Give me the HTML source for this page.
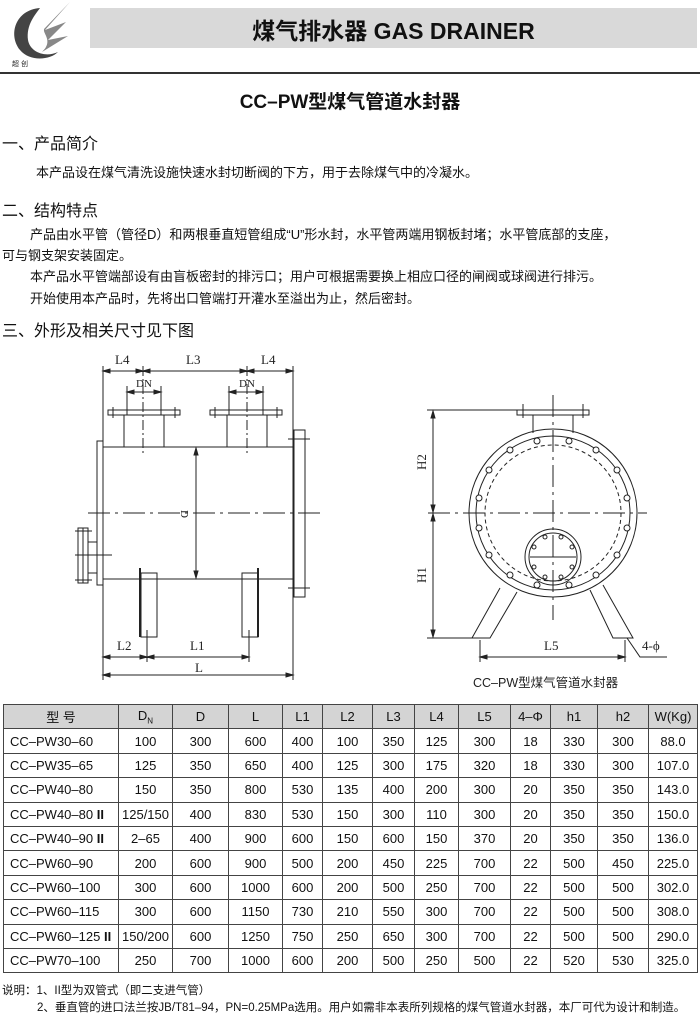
<!DOCTYPE html>
<html><head><meta charset="utf-8"><style>
body{margin:0;width:700px;height:1013px;background:#fff;position:relative;overflow:hidden;font-family:"Liberation Sans","Noto Sans CJK SC",sans-serif;color:#111}
.a{position:absolute;white-space:nowrap}
.h{font-size:16px}
.p{font-size:13px}
table{position:absolute;left:3px;top:704px;border-collapse:collapse;font-size:13px;table-layout:fixed}
td{border:1px solid #444;height:24.4px;padding:0;text-align:center;box-sizing:border-box;white-space:nowrap;overflow:hidden}
tr:first-child td{background:#d4d4d4}
td:first-child{text-align:left;padding-left:6px}
b{font-weight:bold}
</style></head><body>
<svg class="a" style="left:0;top:0" width="80" height="70">
<path d="M40 8 C15 10 8 35 20 50 C30 62 50 60 58 52 C45 58 30 52 28 40 C26 25 35 15 40 8Z" fill="#444"/>
<path d="M70 2 L45 30 L66 22 L48 40 L68 36 L42 52 C55 40 40 32 45 28Z" fill="#888"/>
<text x="12" y="66" font-size="7" fill="#222">超 创</text>
</svg>
<div class="a" style="left:90px;top:8px;width:607px;height:40px;background:#d9d9d9"></div>
<div class="a" style="left:90px;top:12px;width:607px;text-align:center;font-size:23px;font-weight:bold">煤气排水器 GAS DRAINER</div>
<div class="a" style="left:0;top:72px;width:700px;height:2px;background:#333"></div>
<div class="a" style="left:0;top:87px;width:700px;text-align:center;font-size:19px;font-weight:bold">CC–PW型煤气管道水封器</div>
<div class="a h" style="left:2px;top:130px">一、产品简介</div>
<div class="a p" style="left:36px;top:162px">本产品设在煤气清洗设施快速水封切断阀的下方，用于去除煤气中的冷凝水。</div>
<div class="a h" style="left:2px;top:197px">二、结构特点</div>
<div class="a p" style="left:30px;top:224px">产品由水平管（管径D）和两根垂直短管组成“U”形水封，水平管两端用钢板封堵；水平管底部的支座，</div>
<div class="a p" style="left:2px;top:245px">可与钢支架安装固定。</div>
<div class="a p" style="left:30px;top:266px">本产品水平管端部设有由盲板密封的排污口；用户可根据需要换上相应口径的闸阀或球阀进行排污。</div>
<div class="a p" style="left:30px;top:288px">开始使用本产品时，先将出口管端打开灌水至溢出为止，然后密封。</div>
<div class="a h" style="left:2px;top:317px">三、外形及相关尺寸见下图</div>

<svg class="a" style="left:0;top:0" width="700" height="700" fill="none" stroke="#222" stroke-width="1" font-family="Liberation Serif,serif">
<line x1="103" y1="366" x2="103" y2="680"/><line x1="293" y1="366" x2="293" y2="680"/>
<line x1="103" y1="371" x2="293" y2="371"/>
<line x1="127" y1="386" x2="127" y2="415"/><line x1="161" y1="386" x2="161" y2="415"/>
<line x1="229" y1="386" x2="229" y2="415"/><line x1="263" y1="386" x2="263" y2="415"/>
<line x1="127" y1="392" x2="161" y2="392"/><line x1="229" y1="392" x2="263" y2="392"/>
<line x1="143" y1="366" x2="143" y2="455" stroke-dasharray="10,3,2,3"/><line x1="247" y1="366" x2="247" y2="455" stroke-dasharray="10,3,2,3"/>
<rect x="108" y="410" width="72" height="5"/><rect x="210" y="410" width="72" height="5"/>
<line x1="113" y1="407" x2="113" y2="418"/><line x1="175" y1="407" x2="175" y2="418"/>
<line x1="215" y1="407" x2="215" y2="418"/><line x1="277" y1="407" x2="277" y2="418"/>
<rect x="124" y="415" width="40" height="32"/><rect x="227" y="415" width="40" height="32"/>
<line x1="103" y1="447" x2="293" y2="447"/><line x1="103" y1="579" x2="293" y2="579"/>
<rect x="97" y="441" width="6" height="144"/>
<rect x="294" y="430" width="11" height="167"/>
<line x1="288" y1="439" x2="310" y2="439"/><line x1="288" y1="588" x2="310" y2="588"/>
<line x1="88" y1="513" x2="322" y2="513" stroke-dasharray="22,5,3,5"/>
<line x1="196" y1="449" x2="196" y2="577"/>
<path d="M196 448 l-2 7 h4z M196 578 l-2 -7 h4z" fill="#222"/>
<text x="0" y="0" transform="translate(181,510) rotate(90)" font-size="11" fill="#222" stroke="none">D</text>
<rect x="88" y="542" width="9" height="31"/>
<rect x="78" y="528" width="5" height="55"/><rect x="83" y="528" width="5" height="55"/>
<line x1="75" y1="555" x2="112" y2="555"/><line x1="75" y1="531" x2="92" y2="531"/><line x1="75" y1="580" x2="92" y2="580"/>
<rect x="141" y="573" width="16" height="64"/><rect x="242" y="573" width="16" height="64"/>
<line x1="140" y1="568" x2="140" y2="637" stroke-width="2"/><line x1="258" y1="568" x2="258" y2="637" stroke-width="2"/>
<line x1="147" y1="630" x2="147" y2="662"/><line x1="249" y1="630" x2="249" y2="662"/>
<line x1="103" y1="657" x2="249" y2="657"/><line x1="103" y1="675" x2="293" y2="675"/>
<path d="M103 371 l7 -2 v4z M143 371 l-7 -2 v4z M143 371 l7 -2 v4z M247 371 l-7 -2 v4z M247 371 l7 -2 v4z M293 371 l-7 -2 v4z M127 392 l7 -2 v4z M161 392 l-7 -2 v4z M229 392 l7 -2 v4z M263 392 l-7 -2 v4z M103 657 l7 -2 v4z M147 657 l-7 -2 v4z M147 657 l7 -2 v4z M249 657 l-7 -2 v4z M103 675 l7 -2 v4z M293 675 l-7 -2 v4z" fill="#222"/>
<g fill="#222" stroke="none" font-size="13">
<text x="115" y="364">L4</text><text x="186" y="364">L3</text><text x="261" y="364">L4</text>
<text x="136" y="387" font-size="11">DN</text><text x="239" y="387" font-size="11">DN</text>
<text x="117" y="650">L2</text><text x="190" y="650">L1</text><text x="195" y="672">L</text>
</g>
<line x1="553" y1="395" x2="553" y2="620" stroke-dasharray="22,5,3,5"/>
<line x1="428" y1="513" x2="647" y2="513" stroke-dasharray="22,5,3,5"/>
<circle cx="553" cy="513" r="84"/><circle cx="553" cy="513" r="77"/><circle cx="553" cy="513" r="68" stroke-dasharray="4,3"/>
<g fill="#fff">
<circle cx="537" cy="441" r="3"/><circle cx="569" cy="441" r="3"/><circle cx="510" cy="450" r="3"/><circle cx="596" cy="450" r="3"/>
<circle cx="489" cy="470" r="3"/><circle cx="617" cy="470" r="3"/><circle cx="479" cy="498" r="3"/><circle cx="627" cy="498" r="3"/>
<circle cx="479" cy="528" r="3"/><circle cx="627" cy="528" r="3"/><circle cx="489" cy="555" r="3"/><circle cx="617" cy="555" r="3"/>
<circle cx="510" cy="575" r="3"/><circle cx="596" cy="575" r="3"/><circle cx="537" cy="585" r="3"/><circle cx="569" cy="585" r="3"/>
</g>
<circle cx="553" cy="557" r="28"/><circle cx="553" cy="557" r="24"/>
<g fill="#fff"><circle cx="545" cy="537" r="2"/><circle cx="561" cy="537" r="2"/><circle cx="534" cy="547" r="2"/><circle cx="572" cy="547" r="2"/><circle cx="534" cy="567" r="2"/><circle cx="572" cy="567" r="2"/><circle cx="545" cy="577" r="2"/><circle cx="561" cy="577" r="2"/></g>
<line x1="530" y1="557" x2="576" y2="557"/>
<rect x="517" y="410" width="72" height="5"/><line x1="523" y1="404" x2="523" y2="418"/><line x1="583" y1="404" x2="583" y2="418"/>
<line x1="533" y1="415" x2="533" y2="433"/><line x1="573" y1="415" x2="573" y2="433"/>
<line x1="427" y1="410" x2="517" y2="410"/><line x1="427" y1="638" x2="490" y2="638"/>
<line x1="433" y1="412" x2="433" y2="636"/>
<path d="M433 411 l-2 7 h4z M433 512 l-2 -7 h4z M433 514 l-2 7 h4z M433 637 l-2 -7 h4z" fill="#222"/>
<path d="M500 588 L472 638 H490 L517 592"/><path d="M590 590 L613 638 H633 L603 585"/>
<line x1="480" y1="640" x2="480" y2="662"/><line x1="625" y1="640" x2="625" y2="662"/>
<line x1="480" y1="657" x2="625" y2="657"/>
<path d="M480 657 l7 -2 v4z M625 657 l-7 -2 v4z" fill="#222"/>
<polyline points="627,638 640,657 667,657"/>
<g fill="#222" stroke="none" font-size="13">
<text transform="translate(426,470) rotate(-90)">H2</text><text transform="translate(426,583) rotate(-90)">H1</text>
<text x="544" y="650">L5</text><text x="642" y="650">4-ϕ</text>
</g>
<text x="473" y="687" font-size="12.5" fill="#222" stroke="none" font-family="Liberation Sans,Noto Sans CJK SC,sans-serif">CC–PW型煤气管道水封器</text>
</svg>

<table>
<colgroup><col style="width:115px"><col style="width:54px"><col style="width:56px"><col style="width:54px"><col style="width:40px"><col style="width:50px"><col style="width:42px"><col style="width:44px"><col style="width:52px"><col style="width:40px"><col style="width:47px"><col style="width:51px"><col style="width:49px"></colgroup>
<tr><td style="text-align:center;padding:0">型 号</td><td>D<sub style="font-size:8px">N</sub></td><td>D</td><td>L</td><td>L1</td><td>L2</td><td>L3</td><td>L4</td><td>L5</td><td>4–Φ</td><td>h1</td><td>h2</td><td>W(Kg)</td></tr>
<tr><td>CC–PW30–60</td><td>100</td><td>300</td><td>600</td><td>400</td><td>100</td><td>350</td><td>125</td><td>300</td><td>18</td><td>330</td><td>300</td><td>88.0</td></tr>
<tr><td>CC–PW35–65</td><td>125</td><td>350</td><td>650</td><td>400</td><td>125</td><td>300</td><td>175</td><td>320</td><td>18</td><td>330</td><td>300</td><td>107.0</td></tr>
<tr><td>CC–PW40–80</td><td>150</td><td>350</td><td>800</td><td>530</td><td>135</td><td>400</td><td>200</td><td>300</td><td>20</td><td>350</td><td>350</td><td>143.0</td></tr>
<tr><td>CC–PW40–80 <b>II</b></td><td>125/150</td><td>400</td><td>830</td><td>530</td><td>150</td><td>300</td><td>110</td><td>300</td><td>20</td><td>350</td><td>350</td><td>150.0</td></tr>
<tr><td>CC–PW40–90 <b>II</b></td><td>2–65</td><td>400</td><td>900</td><td>600</td><td>150</td><td>600</td><td>150</td><td>370</td><td>20</td><td>350</td><td>350</td><td>136.0</td></tr>
<tr><td>CC–PW60–90</td><td>200</td><td>600</td><td>900</td><td>500</td><td>200</td><td>450</td><td>225</td><td>700</td><td>22</td><td>500</td><td>450</td><td>225.0</td></tr>
<tr><td>CC–PW60–100</td><td>300</td><td>600</td><td>1000</td><td>600</td><td>200</td><td>500</td><td>250</td><td>700</td><td>22</td><td>500</td><td>500</td><td>302.0</td></tr>
<tr><td>CC–PW60–115</td><td>300</td><td>600</td><td>1150</td><td>730</td><td>210</td><td>550</td><td>300</td><td>700</td><td>22</td><td>500</td><td>500</td><td>308.0</td></tr>
<tr><td>CC–PW60–125 <b>II</b></td><td>150/200</td><td>600</td><td>1250</td><td>750</td><td>250</td><td>650</td><td>300</td><td>700</td><td>22</td><td>500</td><td>500</td><td>290.0</td></tr>
<tr><td>CC–PW70–100</td><td>250</td><td>700</td><td>1000</td><td>600</td><td>200</td><td>500</td><td>250</td><td>500</td><td>22</td><td>520</td><td>530</td><td>325.0</td></tr>
</table>
<div class="a" style="left:2px;top:982px;font-size:11.5px">说明：1、II型为双管式（即二支进气管）</div>
<div class="a" style="left:37px;top:999px;font-size:11.5px">2、垂直管的进口法兰按JB/T81–94，PN=0.25MPa选用。用户如需非本表所列规格的煤气管道水封器，本厂可代为设计和制造。</div>
</body></html>
